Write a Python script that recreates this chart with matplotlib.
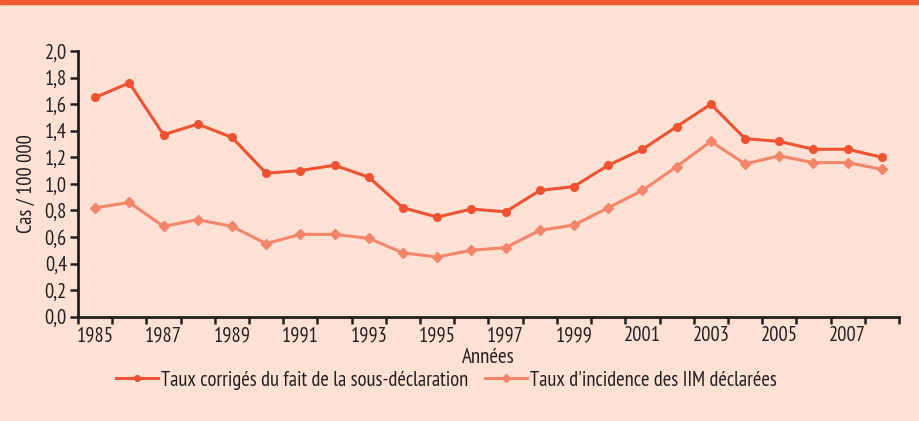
import matplotlib
matplotlib.use('Agg')
import matplotlib.pyplot as plt
from matplotlib.patches import Rectangle

years = list(range(1985, 2009))
taux_corriges = [1.65, 1.76, 1.37, 1.45, 1.35, 1.08, 1.10, 1.14, 1.05, 0.82, 0.75, 0.81,
                 0.79, 0.95, 0.98, 1.14, 1.26, 1.43, 1.60, 1.34, 1.32, 1.26, 1.26, 1.20]
taux_declares = [0.82, 0.86, 0.68, 0.73, 0.68, 0.55, 0.62, 0.62, 0.59, 0.48, 0.45, 0.50,
                 0.52, 0.65, 0.69, 0.82, 0.95, 1.13, 1.32, 1.15, 1.21, 1.16, 1.16, 1.11]
y_ticks = [0.0, 0.2, 0.4, 0.6, 0.8, 1.0, 1.2, 1.4, 1.6, 1.8, 2.0]

bg = '#fde1d5'
red = '#ee5230'
light = '#f3866a'
txt = '#231f20'

plt.rcParams['font.family'] = ['PT Sans Narrow', 'Roboto Condensed', 'DejaVu Sans']

fig = plt.figure(figsize=(9.19, 4.21), dpi=100, facecolor=bg)
fig.patches.append(Rectangle((0, 1 - 4 / 421), 1, 4 / 421, transform=fig.transFigure,
                             color='#f15a2e', zorder=0))

ax = fig.add_axes([78 / 919, (421 - 316.7) / 421, 821 / 919, 265.7 / 421])
ax.set_facecolor(bg)

pos = [i + 0.5 for i in range(len(years))]
ax.plot(pos, taux_corriges, color=red, lw=2.2, marker='o', ms=5.5,
        label='Taux corrigés du fait de la sous-déclaration', zorder=3)
ax.plot(pos, taux_declares, color=light, lw=2.2, marker='D', ms=5,
        label="Taux d'incidence des IIM déclarées", zorder=2)

ax.set_xlim(0, len(years))
ax.set_ylim(0, 2.0)
ax.set_yticks(y_ticks)
ax.set_yticklabels([f'{v:.1f}'.replace('.', ',') for v in y_ticks])

ax.set_xticks(range(len(years) + 1))
ax.set_xticklabels([])
ax.set_xticks(pos[::2], minor=True)
ax.set_xticklabels([str(y) for y in years[::2]], minor=True)
ax.tick_params(axis='x', which='minor', length=0, pad=7)
ax.tick_params(axis='x', which='major', length=5, width=1.8, color=txt)
ax.tick_params(axis='y', length=6, width=1.8, color=txt, pad=2)
ax.tick_params(which='both', labelsize=14.8, labelcolor=txt)

for s in ['top', 'right']:
    ax.spines[s].set_visible(False)
for s in ['left', 'bottom']:
    ax.spines[s].set_linewidth(2)
    ax.spines[s].set_color(txt)

ax.set_xlabel('Années', fontsize=15, color=txt, labelpad=2)
ax.set_ylabel('Cas / 100 000', fontsize=14.8, color=txt, labelpad=6)

fig.legend(loc='center left', bbox_to_anchor=(116 / 919, 1 - 380 / 421), ncol=2,
           frameon=False, fontsize=14.8, handlelength=2.05, handletextpad=0.15,
           columnspacing=0.8, borderpad=0, borderaxespad=0, labelcolor=txt,
           markerscale=0.75)

fig.savefig('out.png', dpi=100, facecolor=bg)
